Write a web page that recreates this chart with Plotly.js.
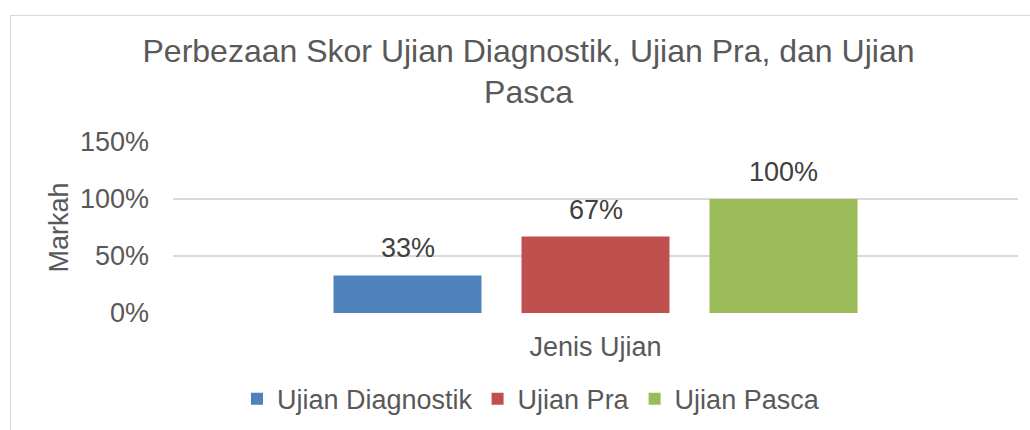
<!DOCTYPE html>
<html>
<head>
<meta charset="utf-8">
<script src="https://cdn.plot.ly/plotly-3.0.1.min.js"></script>
<style>
  html, body { margin: 0; padding: 0; background: #fff; }
  #wrap { position: relative; width: 1030px; height: 430px; overflow: hidden; }
  #frame { position: absolute; left: 10px; top: 15px; width: 1100px; height: 500px; border: 1.5px solid #D9D9D9; box-sizing: border-box; }
  #chart { position: absolute; left: 0; top: 0; width: 1030px; height: 430px; }
</style>
</head>
<body>
<div id="wrap">
  <div id="frame"></div>
  <div id="chart"></div>
</div>
<script>
const chartTitle = "Perbezaan Skor Ujian Diagnostik, Ujian Pra, dan Ujian<br>Pasca";
const xAxisTitle = "Jenis Ujian";
const yAxisTitle = "Markah";
const seriesNames = ["Ujian Diagnostik", "Ujian Pra", "Ujian Pasca"];
const seriesValues = [0.33, 0.67, 1.00];
const seriesColors = ["#4F81BD", "#C0504D", "#9BBB59"];
const yTickVals = [0, 0.5, 1.0, 1.5];
const yTickText = ["0%", "50%", "100%", "150%"];

const font = "Arial, 'Liberation Sans', sans-serif";

const traces = seriesNames.map((name, i) => ({
  type: "bar",
  name: name,
  x: [name],
  y: [seriesValues[i]],
  marker: { color: seriesColors[i], line: { width: 0 } },
  hoverinfo: "none"
}));

const annotations = seriesNames.map((name, i) => ({
  x: name,
  y: seriesValues[i],
  xref: "x",
  yref: "y",
  text: Math.round(seriesValues[i] * 100) + "%",
  showarrow: false,
  xanchor: "center",
  yanchor: "middle",
  yshift: 27,
  font: { family: font, size: 27, color: "#404040" }
}));

const layout = {
  width: 1030,
  height: 430,
  margin: { l: 173, r: 12, t: 142, b: 116.5, pad: 0, autoexpand: false },
  paper_bgcolor: "rgba(0,0,0,0)",
  plot_bgcolor: "rgba(0,0,0,0)",
  font: { family: font, color: "#595959" },
  barmode: "overlay",
  bargap: 0.2128,
  showlegend: true,
  annotations: annotations,
  title: {
    text: chartTitle,
    font: { family: font, size: 32, color: "#595959" },
    xref: "container",
    yref: "container",
    x: 528.5 / 1030,
    xanchor: "center",
    y: 1 - 61.5 / 430,
    yanchor: "top"
  },
  xaxis: {
    type: "category",
    range: [-1.2473, 3.2473],
    showticklabels: false,
    showgrid: false,
    zeroline: false,
    showline: false,
    ticks: "",
    title: { text: xAxisTitle, font: { family: font, size: 27, color: "#595959" }, standoff: 23.5 },
    automargin: false
  },
  yaxis: {
    range: [0, 1.5],
    tickvals: yTickVals,
    ticktext: yTickText,
    tickfont: { family: font, size: 27, color: "#595959" },
    showgrid: true,
    gridcolor: "#D9D9D9",
    gridwidth: 1.5,
    zeroline: false,
    showline: false,
    ticks: "",
    ticklabelstandoff: 23,
    title: { text: yAxisTitle, font: { family: font, size: 27, color: "#595959" }, standoff: 3 },
    automargin: false
  },
  legend: {
    orientation: "h",
    x: (531 - 173) / 845,
    xanchor: "center",
    y: -(400 - 313.5) / 171.5,
    yanchor: "middle",
    font: { family: font, size: 27, color: "#595959" },
    bgcolor: "rgba(0,0,0,0)"
  }
};

Plotly.newPlot("chart", traces, layout, { displayModeBar: false, staticPlot: true });
</script>
</body>
</html>
